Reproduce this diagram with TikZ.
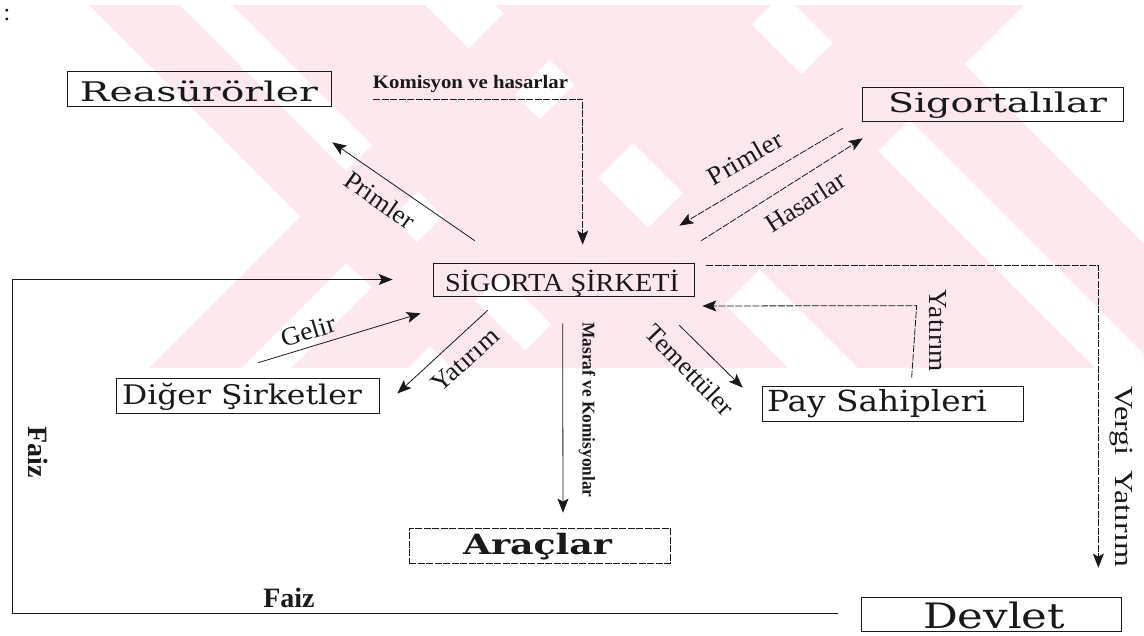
\documentclass[tikz,border=0pt]{standalone}
\usepackage{fontspec}
\setmainfont{Liberation Serif}
\newfontfamily\wide{DejaVu Serif}
\usepackage{graphicx}
\usetikzlibrary{arrows.meta,calc}
\definecolor{wm}{RGB}{253,233,237}
\definecolor{ink}{RGB}{25,25,25}
% box text: width, left offset, text width, font size, text, font
\newcommand\bxt[6]{\makebox[#1pt][l]{\hspace{#2pt}#6\fontsize{#4}{#4}\selectfont\resizebox{#3pt}{\height}{#5}}}
\newcommand\lbl[3]{{\fontsize{#1}{#1}\selectfont\resizebox{#2pt}{\height}{#3}}}
\begin{document}
\begin{tikzpicture}[x=1pt,y=-1pt,
 ent/.style={draw=ink,line width=0.7pt,inner sep=0pt,text depth=0pt,text=ink},
 arr/.style={draw=ink,line width=0.8pt,-{Stealth[length=14pt,width=11pt,inset=3pt]}},
 dsh/.style={dash pattern=on 7pt off 1.5pt},
 lab/.style={inner sep=0pt,text=ink}]
\useasboundingbox (0,0) rectangle (1144,636);
\fill[white] (0,0) rectangle (1144,636);
% watermark
\begin{scope}
\clip (0,6) rectangle (1144,368);
\foreach \a/\b in {84/174,227/420,490/727,790/900}
  \fill[wm] (\a,0) -- (\b,0) -- (\b+400,400) -- (\a+400,400) -- cycle;
\foreach \a/\b in {517/609,659/776,876/1029}
  \fill[wm] (\a,0) -- (\b,0) -- (\b-400,400) -- (\a-400,400) -- cycle;
\end{scope}
% top-left colon
\node[lab] (colon) at (7,15) {\fontsize{24}{24}\selectfont :};
% boxes
\node[ent,minimum height=35pt,text height=27pt] (reas) at (199,88.5) {\bxt{264}{13}{238}{27}{Reasürörler}{\wide}};
\node[ent,minimum height=34pt,text height=18pt] (sigl) at (992.5,104) {\bxt{261}{26}{219}{27}{Sigortalılar}{\wide}};
\node[ent,minimum height=33pt,text height=25pt] (sig) at (563.5,279.5) {\bxt{261}{12}{234}{26}{SİGORTA ŞİRKETİ}{}};
\node[ent,minimum height=35pt,text height=19pt] (dig) at (247.5,395.5) {\bxt{263}{6}{240}{27}{Diğer Şirketler}{\wide}};
\node[ent,minimum height=35pt,text height=17pt] (pay) at (892.5,403.5) {\bxt{261}{5}{220}{29}{Pay Sahipleri}{\wide}};
\node[ent,dsh,minimum height=35pt,text height=17pt] (arac) at (539.5,545.5) {\bxt{261}{54}{149}{28}{Araçlar}{\wide\bfseries}};
\node[ent,minimum height=34pt,text height=28pt] (dev) at (991,614) {\bxt{260}{62}{142}{35}{Devlet}{\wide}};
% labels
\node[lab,anchor=base] (kom) at (470.5,89) {\bfseries\lbl{19}{195}{Komisyon ve hasarlar}};
\node[lab,rotate=-35] (lpr1) at (380,200) {\lbl{26}{80}{Primler}};
\node[lab,rotate=30] (lpr2) at (745,158) {\lbl{26}{82}{Primler}};
\node[lab,rotate=33] (lhas) at (805,202) {\lbl{26}{90}{Hasarlar}};
\node[lab,rotate=17] (lgel) at (308,331) {\lbl{26}{56}{Gelir}};
\node[lab,rotate=42] (lyat1) at (465,360) {\lbl{26}{82}{Yatırım}};
\node[lab,rotate=-46] (ltem) at (690,370) {\lbl{26}{115}{Temettüler}};
\node[lab,rotate=-90] (lmas) at (587,410) {\bfseries\lbl{18}{175}{Masraf ve Komisyonlar}};
\node[lab,rotate=-90] (lyat2) at (938,331) {\lbl{26}{82}{Yatırım}};
\node[lab,rotate=-90] (lver) at (1121,477) {\lbl{26}{180}{Vergi\hspace{12pt}Yatırım}};
\node[lab,rotate=-90] (lfz1) at (38,452) {\bfseries\fontsize{28}{28}\selectfont Faiz};
\node[lab] (lfz2) at (289,598) {\bfseries\fontsize{28}{28}\selectfont Faiz};
% connectors
\coordinate (ks) at (373,99);
\draw[arr,dsh] (ks) -| ($(sig.north west)+(150,-18)$);
\draw[arr] ($(sig.north west)+(42,-22)$) -- ($(reas.south east)+(1,36)$);
\draw[arr,dsh] ($(sigl.south west)+(-19,7)$) -- ($(sig.north east)+(-15,-37)$);
\draw[arr,dsh] ($(sig.north east)+(7,-22)$) -- ($(sigl.south west)+(1,17)$);
\coordinate (lb) at (12,613);
\draw[arr] ($(dev.west)+(-23,-1)$) -- (lb) |- ($(sig.west)+(-40,0)$);
\draw[arr] ($(dig.north east)+(-121,-15)$) -- ($(sig.south west)+(-12,17)$);
\draw[arr] ($(sig.south west)+(55,14)$) -- ($(dig.east)+(18,-2)$);
\draw[arr] ($(sig.south west)+(130,27)$) -- ($(arac.north)+(23.5,-15)$);
\draw[arr] ($(sig.south east)+(-15,29)$) -- ($(pay.north west)+(-19,2)$);
\draw[arr,dsh] ($(pay.north west)+(150,-8)$) -- ($(pay.north west)+(155,-80)$) -- ($(sig.east)+(8,26.5)$);
\draw[arr,dsh] ($(sig.east)+(12,-14.5)$) -| ($(dev.north east)+(-23,-29)$);
\end{tikzpicture}
\end{document}
